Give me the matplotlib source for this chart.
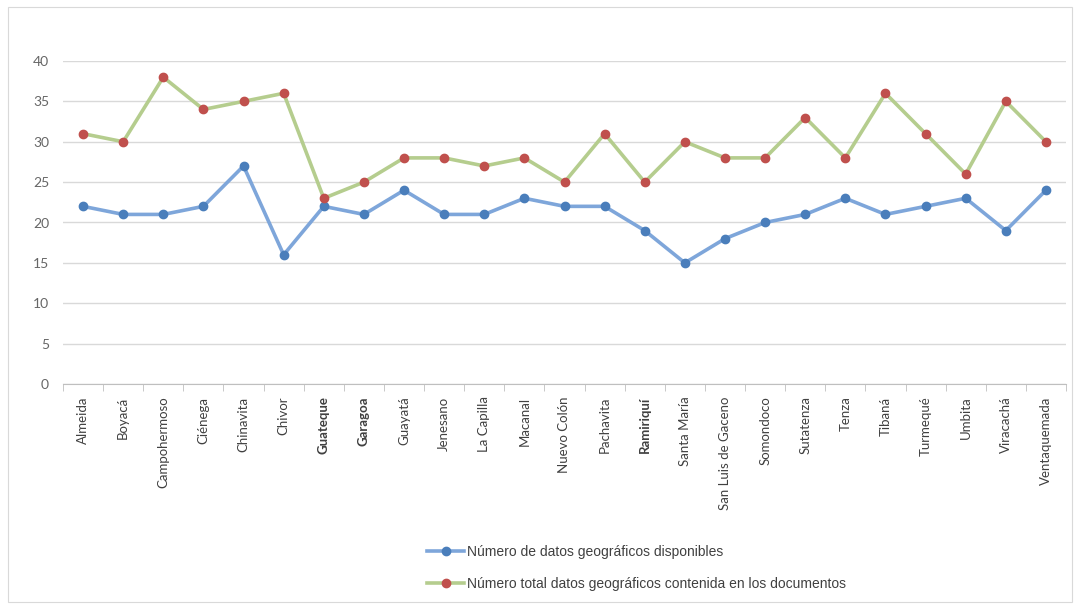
import matplotlib
matplotlib.use("Agg")
import matplotlib.pyplot as plt
from matplotlib.patches import Rectangle
import numpy as np

categories = ["Almeida", "Boyacá", "Campohermoso", "Ciénega", "Chinavita", "Chivor",
              "Guateque", "Garagoa", "Guayatá", "Jenesano", "La Capilla", "Macanal",
              "Nuevo Colón", "Pachavita", "Ramiriquí", "Santa María", "San Luis de Gaceno",
              "Somondoco", "Sutatenza", "Tenza", "Tibaná", "Turmequé", "Umbita",
              "Viracachá", "Ventaquemada"]
bold_labels = ["Guateque", "Garagoa", "Ramiriquí"]
disponibles = [22, 21, 21, 22, 27, 16, 22, 21, 24, 21, 21, 23, 22, 22, 19, 15, 18,
               20, 21, 23, 21, 22, 23, 19, 24]
total = [31, 30, 38, 34, 35, 36, 23, 25, 28, 28, 27, 28, 25, 31, 25, 30, 28, 28,
         33, 28, 36, 31, 26, 35, 30]
label_disp = "Número de datos geográficos disponibles"
label_total = "Número total datos geográficos contenida en los documentos"
yticks = [0, 5, 10, 15, 20, 25, 30, 35, 40]

W, H = 1078, 604
fig = plt.figure(figsize=(W / 100, H / 100), dpi=100)
fig.patch.set_facecolor("white")
fig.add_artist(Rectangle((8 / W, 2 / H), (W - 14) / W, (H - 9) / H,
                         transform=fig.transFigure, fill=False,
                         edgecolor="#D9D9D9", lw=0.8))

ax = fig.add_axes([63 / W, 1 - 384 / H, (1066 - 63) / W, (384 - 61) / H])
x = np.arange(len(categories))
l1, = ax.plot(x, disponibles, color="#7EA6DA", lw=2.6, marker="o", markersize=6,
              markerfacecolor="#4A7EBB", markeredgecolor="#4A7EBB", clip_on=False, zorder=3)
l2, = ax.plot(x, total, color="#B5CD8E", lw=2.6, marker="o", markersize=6,
              markerfacecolor="#C0504D", markeredgecolor="#C0504D", clip_on=False, zorder=3)

ax.set_xlim(-0.5, len(categories) - 0.5)
ax.set_ylim(0, 40)
ax.set_yticks(yticks)
ax.yaxis.grid(True, color="#D9D9D9", lw=1)
ax.set_axisbelow(True)
for s in ["top", "right", "left"]:
    ax.spines[s].set_visible(False)
ax.spines["bottom"].set_color("#BFBFBF")
ax.tick_params(axis="y", length=0, pad=10, labelsize=10, labelcolor="#666666")
ax.set_yticklabels([str(v) for v in yticks], fontfamily="Lato")

ax.set_xticks(x)
ax.set_xticklabels(categories, rotation=90, fontfamily="Lato", fontsize=9.5,
                   color="#404040")
for t in ax.get_xticklabels():
    if t.get_text() in bold_labels:
        t.set_fontweight("bold")
ax.tick_params(axis="x", which="major", length=0, pad=9)
ax.set_xticks(np.arange(-0.5, len(categories) + 0.5, 1), minor=True)
ax.tick_params(axis="x", which="minor", length=5, color="#BFBFBF", direction="out")

leg = fig.legend([l1, l2], [label_disp, label_total], loc="upper left",
                 bbox_to_anchor=(420 / W, 1 - 538 / H), frameon=False,
                 prop={"family": "Liberation Sans", "size": 10},
                 labelspacing=1.3, handlelength=2.7, handletextpad=0.15,
                 borderpad=0, markerscale=1.0)
for t in leg.get_texts():
    t.set_color("#404040")

fig.savefig("out.png", dpi=100, facecolor="white")
